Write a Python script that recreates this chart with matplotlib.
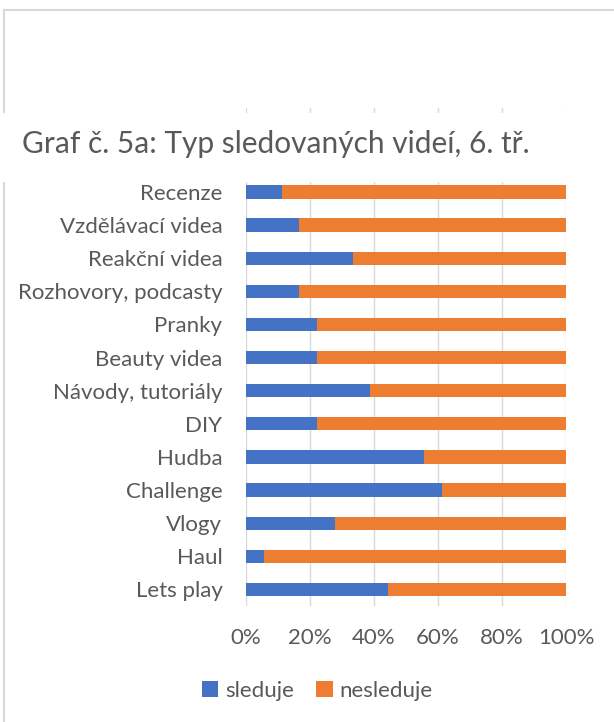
import matplotlib
matplotlib.use("Agg")
import matplotlib.pyplot as plt
import numpy as np
from matplotlib.lines import Line2D
from matplotlib.patches import Rectangle
from matplotlib.ticker import FuncFormatter

# Video types, listed bottom to top as they appear on the axis
categories = [
    "Lets play", "Haul", "Vlogy", "Challenge", "Hudba", "DIY",
    "Návody, tutoriály", "Beauty videa", "Pranky", "Rozhovory, podcasty",
    "Reakční videa", "Vzdělávací videa", "Recenze",
]
# Number of pupils (6th grade) who watch / don't watch each type
sleduje = [8, 1, 5, 11, 10, 4, 7, 4, 4, 3, 6, 3, 2]
nesleduje = [10, 17, 13, 7, 8, 14, 11, 14, 14, 15, 12, 15, 16]
x_ticks = [0, 20, 40, 60, 80, 100]

BLUE = "#4472C4"
ORANGE = "#ED7D31"
TEXT = "#595959"
GRID = "#D9D9D9"

plt.rcParams["font.family"] = ["Lato", "DejaVu Sans"]

W, H = 614, 722
fig = plt.figure(figsize=(W / 100, H / 100), dpi=100)
fig.patch.set_facecolor("white")

ax_left, ax_right, ax_top, ax_bottom = 246, 566, 108, 606
ax = fig.add_axes([ax_left / W, 1 - ax_bottom / H,
                   (ax_right - ax_left) / W, (ax_bottom - ax_top) / H])

seen = np.array(sleduje, dtype=float)
not_seen = np.array(nesleduje, dtype=float)
total = seen + not_seen
seen_pct = seen / total * 100
not_seen_pct = not_seen / total * 100

y = np.arange(len(categories))
b1 = ax.barh(y, seen_pct, height=0.4, color=BLUE, label="sleduje", zorder=2)
b2 = ax.barh(y, not_seen_pct, left=seen_pct, height=0.4, color=ORANGE,
             label="nesleduje", zorder=2)

# 100% stacked axis; top is left open so the gridlines run up under the title
spacing = 33.13
ax.set_ylim(-0.5, -0.5 + (ax_bottom - ax_top) / spacing)
ax.set_xlim(0, 100)
ax.set_yticks(y)
ax.set_yticklabels(categories)
ax.set_xticks(x_ticks)
ax.xaxis.set_major_formatter(FuncFormatter(lambda v, _: f"{v:.0f}%"))
ax.tick_params(axis="both", length=0, colors=TEXT, labelsize=16)
ax.tick_params(axis="y", pad=17)
ax.tick_params(axis="x", pad=16)
for s in ax.spines.values():
    s.set_visible(False)
ax.grid(axis="x", color=GRID, linewidth=1.0, zorder=0)
ax.set_axisbelow(True)

# chart area border (left and top only)
fig.add_artist(Line2D([4 / W, 4 / W, 1], [0, 1 - 10 / H, 1 - 10 / H],
                      transform=fig.transFigure, color=GRID, linewidth=1.5,
                      zorder=1))

# title block sits over the border and gridlines
fig.add_artist(Rectangle((0, 1 - 182 / H), 1, 69 / H, transform=fig.transFigure,
                         facecolor="white", edgecolor="none", zorder=2.5))
fig.text(22 / W, 1 - 144 / H, "Graf č. 5a: Typ sledovaných videí, 6. tř.",
         fontsize=21.5, color=TEXT, ha="left", va="center", zorder=3)

fig.legend(handles=[b1, b2], loc="center", bbox_to_anchor=(317 / W, 1 - 691 / H),
           ncol=2, frameon=False, fontsize=16, labelcolor=TEXT,
           handlelength=0.75, handleheight=0.75, handletextpad=0.3,
           columnspacing=1.0)

fig.savefig("out.png", dpi=100)
